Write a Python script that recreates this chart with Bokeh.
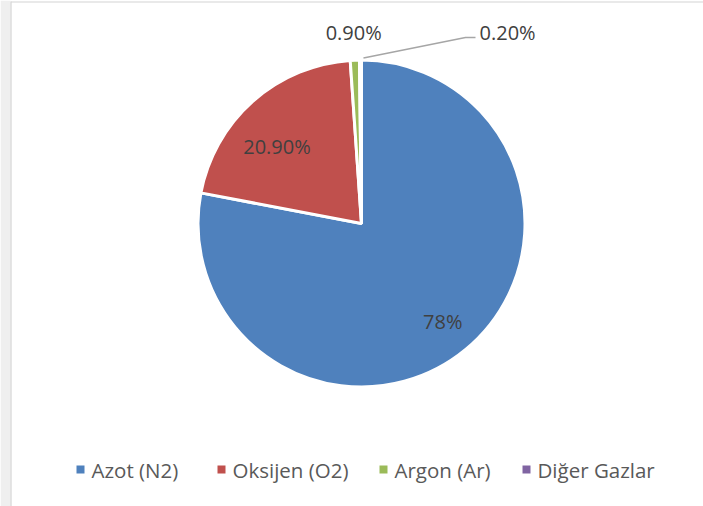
import numpy as np
from bokeh.plotting import figure
from bokeh.models import ColumnDataSource, Range1d
from bokeh.core.properties import value
from bokeh.embed import file_html
from bokeh.resources import INLINE

# ---- data ----
categories = ["Azot (N2)", "Oksijen (O2)", "Argon (Ar)", "Diğer Gazlar"]
values = [78.0, 20.9, 0.9, 0.2]
labels = ["78%", "20.90%", "0.90%", "0.20%"]
colors = ["#4f81bd", "#c0504d", "#9bbb59", "#8064a2"]

# ---- layout ----
W, H = 703, 506
FONT = "Open Sans"
cx, cy, R = 361, H - 223, 163.5

p = figure(width=W, height=H, x_range=Range1d(0, W), y_range=Range1d(0, H),
           output_backend="svg", toolbar_location=None, min_border=0)
p.axis.visible = False
p.grid.visible = False
p.outline_line_color = None
p.background_fill_color = "white"
p.border_fill_color = "white"

# page strip / frame of the original chart
p.quad(left=[0], right=[10], bottom=[0], top=[H], fill_color="#efefef", line_color=None)
p.segment(x0=[10.5], y0=[0], x1=[10.5], y1=[H - 1], line_color="#d4d4d4", line_width=1.2)
p.segment(x0=[10.5], y0=[H - 1.5], x1=[W], y1=[H - 1.5], line_color="#d4d4d4", line_width=1.2)

frac = np.array(values) / np.sum(values)
cum = np.concatenate([[0.0], np.cumsum(frac)])
start = np.pi / 2 - 2 * np.pi * cum[:-1]
end = np.pi / 2 - 2 * np.pi * cum[1:]
mid = (start + end) / 2

src = ColumnDataSource(dict(start=start, end=end, color=colors, cat=categories))
p.wedge(x=cx, y=cy, radius=R, start_angle="start", end_angle="end",
        direction="clock", fill_color="color", line_color="white",
        line_width=3, source=src)

# inside labels (radius factor, angle nudge in degrees)
inside = {0: (0.78, 0.0), 1: (0.70, 6.0)}
lx, ly, lt = [], [], []
for i, (rf, da) in inside.items():
    a = mid[i] + np.deg2rad(da)
    lx.append(cx + rf * R * np.cos(a))
    ly.append(cy + rf * R * np.sin(a))
    lt.append(labels[i])
p.text(x=lx, y=ly, text=lt, text_align="center", text_baseline="middle",
       text_font=value(FONT), text_font_size="20px", text_color="#404040")

# outside label for Argon
ra = R + 28
p.text(x=[cx + ra * np.cos(mid[2])], y=[cy + ra * np.sin(mid[2])], text=[labels[2]],
       text_align="center", text_baseline="middle",
       text_font=value(FONT), text_font_size="20px", text_color="#404040")

# outside label with leader line for Diğer Gazlar
lab_left = cx + 118
lab_y = cy + 191
p.text(x=[lab_left], y=[lab_y], text=[labels[3]], text_align="left",
       text_baseline="middle", text_font=value(FONT), text_font_size="20px",
       text_color="#404040")
sx = cx + (R + 2) * np.cos(mid[3]) + 3
sy = cy + (R + 2) * np.sin(mid[3])
p.line(x=[sx, lab_left - 14, lab_left - 4], y=[sy, lab_y - 5, lab_y - 5],
       line_color="#a6a6a6", line_width=1.5)

# legend (manual, horizontal)
leg_y = H - 469
leg_sq_x = [80, 221, 383, 526]
p.scatter(x=leg_sq_x, y=[leg_y] * 4, marker="square", size=8,
          fill_color=colors, line_color=None)
p.text(x=[v + 11 for v in leg_sq_x], y=[leg_y] * 4, text=categories,
       text_align="left", text_baseline="middle", text_font=value(FONT),
       text_font_size="20.5px", text_color="#595959")

open("out.html", "w").write(file_html(p, INLINE))
